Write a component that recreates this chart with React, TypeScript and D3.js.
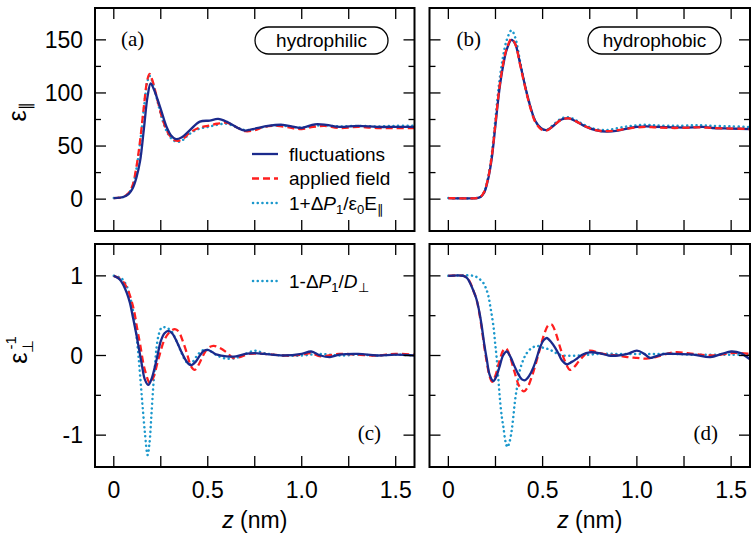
import React from 'react';
import * as d3 from 'd3';

type Pt = [number, number];

// tick values
const zTicks = [0, 0.25, 0.5, 0.75, 1.0, 1.25, 1.5];
const zLabels: [number, string][] = [[0, '0'], [0.5, '0.5'], [1.0, '1.0'], [1.5, '1.5']];
const parTicks = [0, 25, 50, 75, 100, 125, 150];
const parLabels: [number, string][] = [[0, '0'], [50, '50'], [100, '100'], [150, '150']];
const perpTicks = [-1, -0.5, 0, 0.5, 1];
const perpLabels: [number, string][] = [[-1, '-1'], [0, '0'], [1, '1']];

// (a) hydrophilic, eps parallel
const aFluct: Pt[] = [[0, 1], [0.05, 2], [0.08, 5], [0.1, 10], [0.12, 20], [0.14, 36], [0.16, 66], [0.18, 97], [0.196, 109], [0.212, 104], [0.246, 87], [0.281, 68], [0.305, 60], [0.33, 56.5], [0.36, 58], [0.405, 65], [0.458, 73], [0.51, 74], [0.555, 75.5], [0.6, 73], [0.652, 67.8], [0.697, 64.6], [0.76, 66.8], [0.82, 69], [0.9, 70], [0.96, 68], [1.0, 67], [1.07, 70.5], [1.13, 70], [1.2, 68], [1.3, 69], [1.4, 68], [1.5, 68], [1.6, 68]];
const aField: Pt[] = [[0, 1], [0.05, 2], [0.08, 6], [0.1, 13], [0.12, 30], [0.14, 55], [0.16, 87], [0.178, 112], [0.19, 118], [0.205, 112], [0.23, 95], [0.26, 75], [0.29, 62], [0.32, 56], [0.345, 55], [0.37, 57], [0.4, 62], [0.45, 67], [0.5, 69], [0.55, 71], [0.6, 72], [0.65, 68], [0.7, 64], [0.75, 65], [0.8, 68], [0.87, 69], [0.95, 67], [1.0, 66], [1.06, 68], [1.12, 69], [1.2, 67], [1.3, 68], [1.4, 67], [1.5, 67], [1.6, 67]];
const aDelta: Pt[] = [[0, 1], [0.05, 2], [0.08, 6], [0.1, 12], [0.12, 28], [0.14, 53], [0.16, 85], [0.178, 110], [0.19, 116], [0.205, 111], [0.23, 94], [0.26, 74], [0.29, 61], [0.32, 55], [0.345, 54], [0.37, 56], [0.4, 61], [0.45, 66], [0.5, 68], [0.55, 70], [0.6, 71], [0.65, 68], [0.7, 65], [0.75, 66], [0.8, 68], [0.87, 69.5], [0.95, 68], [1.0, 67.5], [1.06, 69], [1.12, 69.5], [1.2, 68.5], [1.3, 69], [1.4, 68.5], [1.5, 69], [1.6, 69]];

// (b) hydrophobic, eps parallel
const bFluct: Pt[] = [[0, 1], [0.15, 1], [0.17, 2], [0.19, 6], [0.21, 18], [0.23, 38], [0.25, 70], [0.27, 102], [0.29, 125], [0.31, 141], [0.335, 150], [0.355, 146], [0.38, 128], [0.4, 112], [0.42, 97], [0.44, 84], [0.46, 74], [0.49, 67], [0.52, 65], [0.55, 68], [0.6, 75], [0.64, 76], [0.68, 73], [0.72, 69], [0.78, 65], [0.84, 63.5], [0.9, 64.5], [0.95, 66.5], [1.0, 68], [1.05, 68.5], [1.1, 68], [1.2, 67.5], [1.3, 67.5], [1.35, 68], [1.4, 67], [1.5, 66.5], [1.6, 66]];
const bField: Pt[] = [[0, 1], [0.15, 1], [0.17, 2], [0.19, 7], [0.21, 19], [0.23, 40], [0.25, 72], [0.27, 104], [0.29, 127], [0.31, 142], [0.335, 151], [0.355, 146], [0.38, 127], [0.4, 111], [0.42, 96], [0.44, 83], [0.46, 73], [0.49, 66], [0.52, 64.5], [0.55, 68], [0.6, 75], [0.64, 76], [0.68, 73], [0.72, 69], [0.78, 65], [0.84, 64], [0.9, 65], [0.95, 66.5], [1.0, 67.5], [1.05, 68], [1.1, 67.5], [1.2, 67], [1.3, 67.5], [1.35, 67.5], [1.4, 67], [1.5, 66.5], [1.6, 66]];
const bDelta: Pt[] = [[0, 1], [0.15, 1], [0.17, 2], [0.19, 7], [0.21, 20], [0.23, 42], [0.25, 76], [0.27, 110], [0.29, 134], [0.31, 150], [0.335, 159], [0.355, 152], [0.38, 130], [0.4, 113], [0.42, 97], [0.44, 84], [0.46, 74], [0.49, 67], [0.52, 65], [0.55, 69], [0.6, 76], [0.64, 77], [0.68, 74], [0.72, 70], [0.78, 66], [0.84, 65], [0.9, 67], [0.95, 68.5], [1.0, 69.5], [1.05, 70], [1.1, 69.5], [1.2, 69], [1.3, 69.5], [1.35, 69.5], [1.4, 69], [1.5, 68.5], [1.6, 68]];

// (c) hydrophilic, inverse eps perpendicular
const cFluct: Pt[] = [[0, 1], [0.03, 0.96], [0.05, 0.89], [0.07, 0.78], [0.086, 0.66], [0.1, 0.5], [0.122, 0.24], [0.148, -0.1], [0.165, -0.3], [0.184, -0.37], [0.2, -0.3], [0.228, -0.05], [0.25, 0.18], [0.27, 0.28], [0.29, 0.31], [0.31, 0.28], [0.334, 0.18], [0.355, 0.07], [0.378, -0.04], [0.4, -0.11], [0.414, -0.12], [0.435, -0.08], [0.458, 0], [0.48, 0.06], [0.5, 0.07], [0.525, 0.04], [0.55, 0.01], [0.6, -0.01], [0.65, -0.01], [0.7, 0.02], [0.75, 0.03], [0.8, 0.02], [0.9, 0], [1.0, 0.02], [1.05, 0.05], [1.1, 0], [1.15, -0.02], [1.2, 0.01], [1.3, 0.02], [1.4, 0], [1.5, 0.01], [1.6, 0]];
const cField: Pt[] = [[0, 1], [0.04, 0.95], [0.07, 0.85], [0.104, 0.6], [0.125, 0.33], [0.14, 0.14], [0.165, -0.18], [0.193, -0.35], [0.21, -0.28], [0.237, -0.05], [0.27, 0.2], [0.3, 0.3], [0.325, 0.33], [0.345, 0.3], [0.37, 0.16], [0.39, 0.02], [0.41, -0.13], [0.431, -0.18], [0.455, -0.1], [0.475, 0], [0.5, 0.09], [0.53, 0.12], [0.56, 0.1], [0.6, 0.04], [0.635, -0.03], [0.67, -0.02], [0.72, 0.02], [0.8, 0.02], [0.9, 0], [1.0, 0.01], [1.05, 0.03], [1.1, -0.01], [1.2, 0.02], [1.3, 0.01], [1.4, 0], [1.5, 0.02], [1.6, 0.01]];
const cDelta: Pt[] = [[0, 1], [0.04, 0.97], [0.069, 0.87], [0.09, 0.7], [0.104, 0.54], [0.118, 0.3], [0.13, 0.03], [0.14, -0.25], [0.152, -0.6], [0.166, -0.98], [0.18, -1.25], [0.19, -1.1], [0.2, -0.75], [0.21, -0.39], [0.22, -0.1], [0.228, 0.11], [0.24, 0.27], [0.255, 0.35], [0.28, 0.35], [0.308, 0.3], [0.33, 0.2], [0.352, 0.08], [0.375, -0.04], [0.4, -0.11], [0.42, -0.08], [0.45, 0.02], [0.48, 0.07], [0.51, 0.06], [0.55, 0], [0.6, -0.04], [0.65, -0.03], [0.7, 0.02], [0.75, 0.06], [0.8, 0.03], [0.9, 0], [1.0, 0], [1.1, 0.02], [1.2, 0], [1.3, 0.01], [1.4, 0], [1.5, 0.01], [1.6, 0]];

// (d) hydrophobic, inverse eps perpendicular
const dFluct: Pt[] = [[0, 1], [0.08, 1], [0.1, 0.97], [0.115, 0.91], [0.135, 0.8], [0.15, 0.7], [0.165, 0.54], [0.177, 0.37], [0.19, 0.15], [0.204, -0.05], [0.22, -0.25], [0.239, -0.32], [0.255, -0.26], [0.274, -0.12], [0.29, 0], [0.31, 0.05], [0.33, -0.02], [0.35, -0.13], [0.37, -0.23], [0.39, -0.3], [0.407, -0.31], [0.43, -0.25], [0.451, -0.15], [0.47, -0.02], [0.486, 0.1], [0.505, 0.19], [0.522, 0.22], [0.545, 0.17], [0.566, 0.1], [0.585, 0.02], [0.602, -0.06], [0.628, -0.11], [0.655, -0.08], [0.681, -0.04], [0.71, 0.01], [0.75, 0.04], [0.8, 0.03], [0.85, 0], [0.9, 0], [0.95, 0.02], [1.0, 0.06], [1.04, 0.02], [1.07, -0.03], [1.1, -0.01], [1.15, 0.02], [1.2, 0.02], [1.3, 0.01], [1.39, -0.02], [1.45, 0.02], [1.5, 0.05], [1.55, 0.03], [1.6, -0.05]];
const dField: Pt[] = [[0, 1], [0.08, 1], [0.1, 0.97], [0.115, 0.92], [0.135, 0.8], [0.15, 0.7], [0.165, 0.52], [0.177, 0.34], [0.19, 0.12], [0.205, -0.1], [0.22, -0.27], [0.232, -0.33], [0.25, -0.25], [0.27, -0.08], [0.29, 0.06], [0.306, 0.09], [0.325, 0], [0.35, -0.2], [0.375, -0.38], [0.4, -0.45], [0.42, -0.4], [0.445, -0.25], [0.47, -0.05], [0.49, 0.12], [0.51, 0.28], [0.53, 0.38], [0.548, 0.39], [0.57, 0.28], [0.593, 0.1], [0.62, -0.08], [0.645, -0.18], [0.665, -0.15], [0.69, -0.08], [0.716, -0.01], [0.75, 0.06], [0.8, 0.03], [0.85, 0.01], [0.9, 0], [0.95, -0.02], [1.0, -0.03], [1.05, -0.04], [1.1, -0.02], [1.2, 0.04], [1.3, 0.02], [1.4, 0], [1.5, 0.03], [1.55, 0.03], [1.6, 0.02]];
const dDelta: Pt[] = [[0, 1], [0.133, 1], [0.16, 0.97], [0.186, 0.91], [0.2, 0.84], [0.212, 0.75], [0.225, 0.58], [0.239, 0.37], [0.248, 0.16], [0.257, -0.05], [0.266, -0.32], [0.274, -0.56], [0.284, -0.78], [0.292, -0.9], [0.303, -1.08], [0.313, -1.15], [0.325, -1.08], [0.336, -0.94], [0.345, -0.76], [0.354, -0.56], [0.367, -0.36], [0.38, -0.18], [0.4, -0.04], [0.416, 0.03], [0.44, 0.09], [0.469, 0.12], [0.5, 0.1], [0.53, 0.08], [0.557, 0.05], [0.58, 0.02], [0.61, 0], [0.7, 0], [0.8, 0.02], [0.9, 0.02], [1.0, 0.02], [1.1, 0.02], [1.2, 0.02], [1.3, 0.01], [1.4, 0.01], [1.5, 0.01], [1.6, 0.01]];

const NAVY = '#1b2a8c';
const RED = '#ff1f1f';
const CYAN = '#1b98cc';
const SANS = '"Liberation Sans", Arial, Helvetica, sans-serif';
const SERIF = '"Liberation Serif", "Times New Roman", serif';

const styles = {
  fluct: { stroke: NAVY, strokeWidth: 2.3 },
  field: { stroke: RED, strokeWidth: 2.3, strokeDasharray: '7 4' },
  delta: { stroke: CYAN, strokeWidth: 2.5, strokeDasharray: '0.1 4.6', strokeLinecap: 'round' as const },
};

type PanelProps = {
  id: string;
  x0: number; x1: number; y0: number; y1: number;
  yDomain: [number, number];
  yTicks: number[];
  yMajor: (v: number) => boolean;
  yLabels: [number, string][] | null;
  xLabels: boolean;
  series: { data: Pt[]; kind: 'fluct' | 'field' | 'delta' }[];
};

function Panel({ id, x0, x1, y0, y1, yDomain, yTicks, yMajor, yLabels, xLabels, series }: PanelProps) {
  const x = d3.scaleLinear().domain([-0.1, 1.6]).range([x0, x1]);
  const y = d3.scaleLinear().domain(yDomain).range([y1, y0]);
  const line = d3.line<Pt>().x(d => x(d[0])).y(d => y(d[1])).curve(d3.curveCatmullRom.alpha(0.5));
  const tk = 11;
  const tkMinor = 6;
  return (
    <g>
      <defs>
        <clipPath id={id}>
          <rect x={x0} y={y0} width={x1 - x0} height={y1 - y0} />
        </clipPath>
      </defs>
      <g clipPath={`url(#${id})`} fill="none">
        {series.map((s, i) => (
          <path key={i} d={line(s.data) || ''} {...styles[s.kind]} />
        ))}
      </g>
      <g stroke="#000" strokeWidth={1.3}>
        {zTicks.map(t => (
          <g key={'x' + t}>
            <line x1={x(t)} x2={x(t)} y1={y1} y2={y1 - tk} />
            <line x1={x(t)} x2={x(t)} y1={y0} y2={y0 + tk} />
          </g>
        ))}
        {yTicks.map(t => {
          const l = yMajor(t) ? tk : tkMinor;
          return (
            <g key={'y' + t}>
              <line x1={x0} x2={x0 + l} y1={y(t)} y2={y(t)} />
              <line x1={x1} x2={x1 - l} y1={y(t)} y2={y(t)} />
            </g>
          );
        })}
      </g>
      <rect x={x0} y={y0} width={x1 - x0} height={y1 - y0} fill="none" stroke="#000" strokeWidth={2} />
      {yLabels && yLabels.map(([v, s]) => (
        <text key={'yl' + v} x={x0 - 12} y={y(v)} dy="0.36em" textAnchor="end" fontFamily={SANS} fontSize={23}>{s}</text>
      ))}
      {xLabels && zLabels.map(([v, s]) => (
        <text key={'xl' + v} x={x(v)} y={498} textAnchor="middle" fontFamily={SANS} fontSize={23}>{s}</text>
      ))}
      {xLabels && (
        <text x={(x0 + x1) / 2} y={528} textAnchor="middle" fontFamily={SANS} fontSize={23}>
          <tspan fontStyle="italic">z</tspan> (nm)
        </text>
      )}
    </g>
  );
}

export default function App() {
  const L = { x0: 95, x1: 414.5 };
  const R = { x0: 429.5, x1: 750 };
  const T = { y0: 8, y1: 231 };
  const B = { y0: 244, y1: 467 };
  const parDomain: [number, number] = [-30, 180];
  const perpDomain: [number, number] = [-1.4, 1.4];
  const parMajor = (v: number) => v % 50 === 0;
  const perpMajor = (v: number) => Number.isInteger(v);
  return (
    <svg width={752} height={536} style={{ position: 'absolute', left: 0, top: 0, background: '#fff' }}>
      <Panel id="ca" {...L} {...T} yDomain={parDomain} yTicks={parTicks} yMajor={parMajor} yLabels={parLabels} xLabels={false}
        series={[{ data: aDelta, kind: 'delta' }, { data: aField, kind: 'field' }, { data: aFluct, kind: 'fluct' }]} />
      <Panel id="cb" {...R} {...T} yDomain={parDomain} yTicks={parTicks} yMajor={parMajor} yLabels={null} xLabels={false}
        series={[{ data: bDelta, kind: 'delta' }, { data: bFluct, kind: 'fluct' }, { data: bField, kind: 'field' }]} />
      <Panel id="cc" {...L} {...B} yDomain={perpDomain} yTicks={perpTicks} yMajor={perpMajor} yLabels={perpLabels} xLabels={true}
        series={[{ data: cDelta, kind: 'delta' }, { data: cField, kind: 'field' }, { data: cFluct, kind: 'fluct' }]} />
      <Panel id="cd" {...R} {...B} yDomain={perpDomain} yTicks={perpTicks} yMajor={perpMajor} yLabels={null} xLabels={true}
        series={[{ data: dDelta, kind: 'delta' }, { data: dField, kind: 'field' }, { data: dFluct, kind: 'fluct' }]} />

      {/* panel letters */}
      <g fontFamily={SERIF} fontSize={21}>
        <text x={121} y={46}>(a)</text>
        <text x={456.5} y={46}>(b)</text>
        <text x={381} y={440} textAnchor="end">(c)</text>
        <text x={718} y={440} textAnchor="end">(d)</text>
      </g>

      {/* surface labels */}
      <g fontFamily={SANS} fontSize={19}>
        <rect x={255} y={27} width={133} height={27} rx={13.5} fill="#fff" stroke="#000" strokeWidth={1.3} />
        <text x={321.5} y={47} textAnchor="middle">hydrophilic</text>
        <rect x={588} y={27} width={133} height={27} rx={13.5} fill="#fff" stroke="#000" strokeWidth={1.3} />
        <text x={654.5} y={47} textAnchor="middle">hydrophobic</text>
      </g>

      {/* legend (a) */}
      <g fontFamily={SANS} fontSize={19} fill="#000">
        <line x1={252} x2={278} y1={154} y2={154} fill="none" {...styles.fluct} />
        <text x={289} y={160.5}>fluctuations</text>
        <line x1={252} x2={278} y1={178.5} y2={178.5} fill="none" {...styles.field} />
        <text x={289} y={185}>applied field</text>
        <line x1={253} x2={278} y1={203} y2={203} fill="none" {...styles.delta} />
        <text x={289} y={209.5}>
          1+Δ<tspan fontStyle="italic">P</tspan><tspan fontSize={13} dy={4}>1</tspan><tspan dy={-4}>/ε</tspan><tspan fontSize={13} dy={4}>0</tspan><tspan dy={-4}>E</tspan><tspan fontSize={13} dy={4}>∥</tspan>
        </text>
        {/* legend (c) */}
        <line x1={253} x2={278} y1={281} y2={281} fill="none" {...styles.delta} />
        <text x={289} y={287.5}>
          1-Δ<tspan fontStyle="italic">P</tspan><tspan fontSize={13} dy={4}>1</tspan><tspan dy={-4}>/</tspan><tspan fontStyle="italic">D</tspan><tspan fontSize={13} dy={4}>⊥</tspan>
        </text>
      </g>

      {/* y axis titles */}
      <g fontFamily={SANS} fontSize={25}>
        <text transform="translate(26,112) rotate(-90)" textAnchor="middle">
          ε<tspan fontSize={16} dy={5}>∥</tspan>
        </text>
        <text transform="translate(27,350) rotate(-90)" textAnchor="middle">
          ε<tspan fontSize={15} dy={6}>⊥</tspan><tspan fontSize={15} dx={-10} dy={-17}>-1</tspan>
        </text>
      </g>
    </svg>
  );
}
